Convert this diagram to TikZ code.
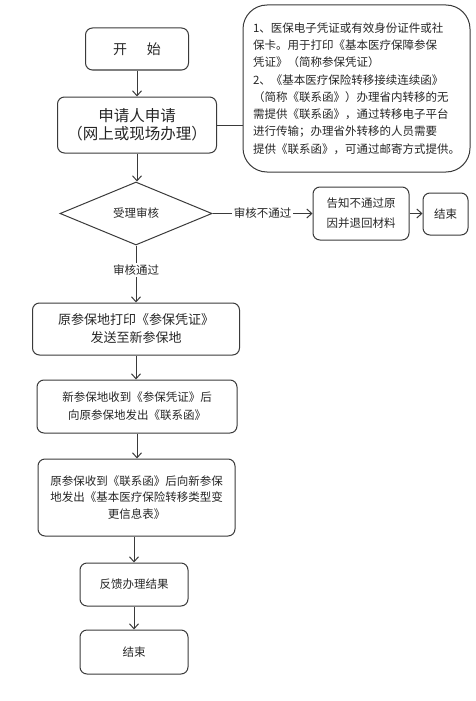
\documentclass[tikz,border=0pt]{standalone}
\usepackage{fontspec}
\setmainfont{Noto Sans CJK SC}
\usetikzlibrary{arrows.meta,shapes.geometric}
\definecolor{ln}{HTML}{3A3A3A}
\definecolor{tx}{HTML}{262626}
\tikzset{
  box/.style={draw=ln,line width=1pt,rounded corners=7pt,inner sep=0pt,align=center,text=tx,
    font=\fontsize{11.5}{18}\selectfont},
  arr/.style={draw=ln,line width=1pt,-{Straight Barb[length=5pt,width=9pt,line width=1pt]}},
  plain/.style={draw=ln,line width=1pt},
  lbl/.style={fill=white,inner sep=1.5pt,text=tx,font=\fontsize{11.5}{14}\selectfont}
}
\begin{document}
\begin{tikzpicture}[x=1pt,y=-1pt]
\useasboundingbox (0,0) rectangle (475,701);
\node[box,minimum width=103pt,minimum height=42pt,font=\fontsize{14}{18}\selectfont] (start) at (137,49) {开\hspace{20pt}始};
\node[box,minimum width=159pt,minimum height=56pt,font=\fontsize{15.5}{18}\selectfont] (apply) at (137,125) {申请人申请\\（网上或现场办理）};
\node[box,rounded corners=24pt,minimum width=227pt,minimum height=167pt,align=left,font=\fontsize{11.5}{17.3}\selectfont] (note) at (356.5,88.5)
  {1、医保电子凭证或有效身份证件或社\\保卡。用于打印《基本医疗保障参保\\凭证》（简称参保凭证）\\2、《基本医疗保险转移接续连续函》\\（简称《联系函》）办理省内转移的无\\需提供《联系函》，通过转移电子平台\\进行传输；办理省外转移的人员需要\\提供《联系函》，可通过邮寄方式提供。};
\node[draw=ln,line width=1pt,diamond,aspect=2.4,minimum width=152pt,minimum height=63pt,inner sep=0pt,text=tx,font=\fontsize{11.5}{14}\selectfont] (check) at (136,213.5) {受理审核};
\node[box,minimum width=96pt,minimum height=53pt,font=\fontsize{11.5}{20}\selectfont] (notify) at (361,213.5) {告知不通过原\\因并退回材料};
\node[box,minimum width=45pt,minimum height=42pt] (end1) at (445.5,214) {结束};
\node[box,minimum width=207pt,minimum height=52pt,font=\fontsize{13}{18}\selectfont] (print) at (136,329) {原参保地打印《参保凭证》\\发送至新参保地};
\node[box,minimum width=200pt,minimum height=53pt] (recv) at (137,406.5) {新参保地收到《参保凭证》后\\向原参保地发出《联系函》};
\node[box,minimum width=197pt,minimum height=77pt,font=\fontsize{11.5}{16.5}\selectfont] (recv2) at (136.5,497.5) {原参保收到《联系函》后向新参保\\地发出《基本医疗保险转移类型变\\更信息表》};
\node[box,minimum width=108pt,minimum height=43pt] (feed) at (134,584.5) {反馈办理结果};
\node[box,minimum width=108pt,minimum height=44pt] (end2) at (134,652) {结束};
% connectors
\draw[arr] (start.south) -- (start.south |- apply.north);
\draw[arr] (apply.south) -- (apply.south |- check.north);
\draw[plain] (apply.east) -- (apply.east -| note.west);
\draw[arr] (check.east) -- (notify.west) node[lbl,pos=0.5] {审核不通过};
\draw[arr] (notify.east) -- (notify.east -| end1.west);
\draw[arr] (check.south) -- (check.south |- print.north) node[lbl,pos=0.43] {审核通过};
\draw[arr] (print.south) -- (print.south |- recv.north);
\draw[arr] (recv.south) -- (recv.south |- recv2.north);
\draw[arr] (recv2.south -| feed.north) -- (feed.north);
\draw[arr] (feed.south) -- (end2.north);
\end{tikzpicture}
\end{document}
